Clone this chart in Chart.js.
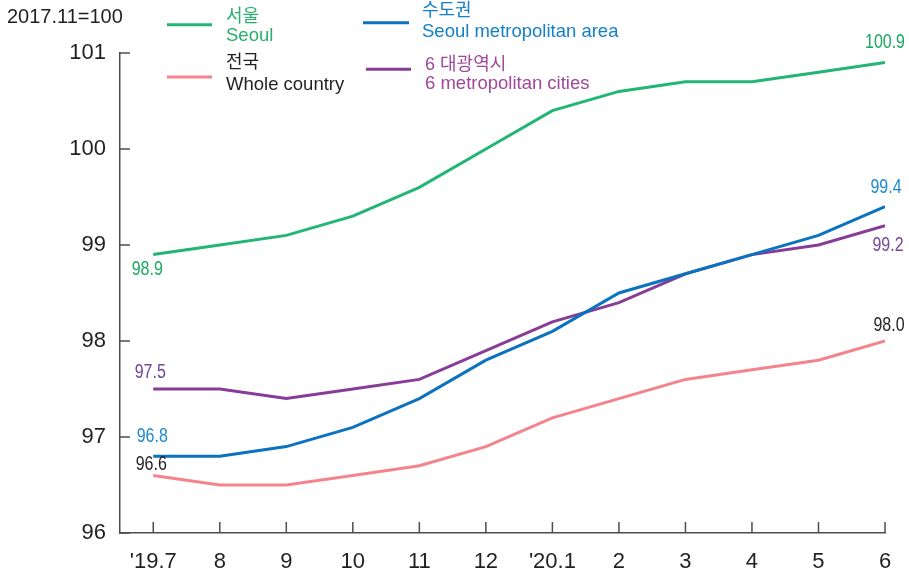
<!DOCTYPE html>
<html><head><meta charset="utf-8">
<script src="https://cdn.jsdelivr.net/npm/chart.js@4"></script>
<style>html,body{margin:0;padding:0;background:#fff;}canvas{display:block;}</style>
</head><body>
<canvas id="c" width="909" height="574"></canvas>
<script>
// ---- data ----
const months   = ["'19.7","8","9","10","11","12","'20.1","2","3","4","5","6"];
const seoul    = [98.9, 99.0, 99.1, 99.3, 99.6, 100.0, 100.4, 100.6, 100.7, 100.7, 100.8, 100.9];
const capital  = [96.8, 96.8, 96.9, 97.1, 97.4, 97.8, 98.1, 98.5, 98.7, 98.9, 99.1, 99.4];
const metro6   = [97.5, 97.5, 97.4, 97.5, 97.6, 97.9, 98.2, 98.4, 98.7, 98.9, 99.0, 99.2];
const nation   = [96.6, 96.5, 96.5, 96.6, 96.7, 96.9, 97.2, 97.4, 97.6, 97.7, 97.8, 98.0];
const yTicks   = [96, 97, 98, 99, 100, 101];
const baseNote = "2017.11=100";
const namesKo  = ["서울", "수도권", "6 대광역시", "전국"];
const namesEn  = ["Seoul", "Seoul metropolitan area", "6 metropolitan cities", "Whole country"];

// ---- styles ----
const FONT = "'Liberation Sans', Arial, 'Noto Sans CJK KR', sans-serif";
const AXIS = '#4d4d4d';
const lineColors  = ['#22b573', '#0a72bf', '#873c98', '#f4848c'];
const textColors  = ['#27b06c', '#1480c8', '#a0479d', '#231f20'];
const valueColors = ['#1aa862', '#1b8ad0', '#70489c', '#231f20'];
const seriesData  = [seoul, capital, metro6, nation];

// legend placement: [lineX0, lineX1, lineY, textX, koY, enY]
const legendPos = [
  [167, 212, 24.7, 226, 17, 36],
  [363, 409, 22.7, 422, 11, 32],
  [366, 411, 69.3, 425, 65, 83.5],
  [167, 212, 77,   226, 63, 85]
];
// value label offsets [first:{dx,dy}, last:{dx,dy}]
const labelOffsets = [
  [[-6, 15], [0, -20]],
  [[-1, -20], [1, -19]],
  [[-3, -17], [3, 20]],
  [[-2, -11], [4, -16]]
];

const decor = {
  id: 'decor',
  afterDraw(chart) {
    const {ctx, chartArea: a, scales: {x, y}} = chart;
    ctx.save();
    // inside ticks
    ctx.strokeStyle = AXIS; ctx.lineWidth = 1.5;
    months.forEach((m, i) => {
      const px = x.getPixelForValue(i);
      ctx.beginPath(); ctx.moveTo(px, a.bottom); ctx.lineTo(px, a.bottom - 11); ctx.stroke();
    });
    yTicks.forEach(v => {
      const py = y.getPixelForValue(v);
      ctx.beginPath(); ctx.moveTo(a.left, py); ctx.lineTo(a.left + 10, py); ctx.stroke();
    });
    // base note
    ctx.fillStyle = '#231f20'; ctx.font = '20px ' + FONT;
    ctx.textAlign = 'left'; ctx.textBaseline = 'middle';
    ctx.fillText(baseNote, 7, 17);
    // legend
    legendPos.forEach((p, i) => {
      ctx.strokeStyle = lineColors[i]; ctx.lineWidth = 3;
      ctx.beginPath(); ctx.moveTo(p[0], p[2]); ctx.lineTo(p[1], p[2]); ctx.stroke();
      ctx.fillStyle = textColors[i];
      ctx.font = '18px ' + FONT;
      ctx.fillText(namesKo[i], p[3], p[4]);
      ctx.font = '18.5px ' + FONT;
      ctx.fillText(namesEn[i], p[3], p[5]);
    });
    // value labels (condensed)
    ctx.textAlign = 'center';
    ctx.font = '20px ' + FONT;
    seriesData.forEach((d, i) => {
      [0, d.length - 1].forEach((k, j) => {
        const px = x.getPixelForValue(k) + labelOffsets[i][j][0];
        const py = y.getPixelForValue(d[k]) + labelOffsets[i][j][1];
        ctx.save();
        ctx.translate(px, py);
        ctx.scale(0.8, 1);
        ctx.fillStyle = valueColors[i];
        ctx.fillText(d[k].toFixed(1), 0, 0);
        ctx.restore();
      });
    });
    ctx.restore();
  }
};

const toPts = arr => arr.map((v, i) => ({x: i, y: v}));

new Chart(document.getElementById('c'), {
  type: 'line',
  data: {
    datasets: seriesData.map((d, i) => ({
      label: namesEn[i],
      data: toPts(d),
      borderColor: lineColors[i],
      backgroundColor: lineColors[i],
      borderWidth: 3,
      pointRadius: 0,
      tension: 0,
      fill: false
    }))
  },
  options: {
    responsive: false,
    devicePixelRatio: 1,
    animation: false,
    layout: {padding: {top: 53, right: 24, left: 0, bottom: 0}},
    plugins: {legend: {display: false}, tooltip: {enabled: false}},
    scales: {
      x: {
        type: 'linear', min: -0.5, max: 11,
        afterFit: s => { s.height = 41; },
        grid: {display: false, drawTicks: false},
        border: {display: true, color: AXIS, width: 1.5},
        ticks: {
          stepSize: 1, includeBounds: false, autoSkip: false, maxRotation: 0,
          padding: 16, color: '#231f20', font: {family: FONT, size: 22},
          callback: v => Number.isInteger(v) && months[v] !== undefined ? months[v] : ''
        }
      },
      y: {
        type: 'linear', min: yTicks[0], max: yTicks[yTicks.length - 1],
        afterFit: s => { s.width = 120; },
        afterBuildTicks: s => { s.ticks = yTicks.map(v => ({value: v})); },
        grid: {display: false, drawTicks: false},
        border: {display: true, color: AXIS, width: 1.5},
        ticks: {padding: 14, color: '#231f20', font: {family: FONT, size: 22}}
      }
    }
  },
  plugins: [decor]
});
</script>
</body></html>
